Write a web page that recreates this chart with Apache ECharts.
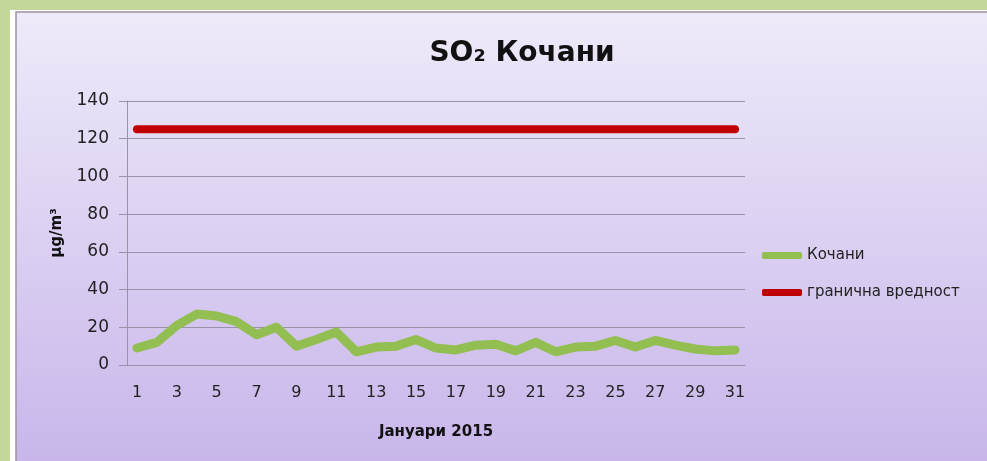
<!DOCTYPE html>
<html>
<head>
<meta charset="utf-8">
<script src="https://cdn.jsdelivr.net/npm/echarts@6/dist/echarts.min.js"></script>
<style>
html,body{margin:0;padding:0;background:#c4d79b;}
#c{width:987px;height:461px;}
</style>
</head>
<body>
<div id="c"></div>
<script>
const days = ['1','2','3','4','5','6','7','8','9','10','11','12','13','14','15','16','17','18','19','20','21','22','23','24','25','26','27','28','29','30','31'];
const kochani = [9,12,21,27,26,23,16,20,10,13.5,17.5,7,9.5,10,13.5,9,8,10.5,11,7.5,12,7,9.5,10,13,9.5,13,10.5,8.5,7.5,8];
const limitValue = [125,125,125,125,125,125,125,125,125,125,125,125,125,125,125,125,125,125,125,125,125,125,125,125,125,125,125,125,125,125,125];
const seriesNames = ['Кочани','гранична вредност'];
const titleText = 'SO₂ Кочани';
const yName = 'μg/m³';
const xName = 'Јануари 2015';

const font = '"Comic Sans MS","DejaVu Sans",sans-serif';
const chart = echarts.init(document.getElementById('c'), null, {renderer:'canvas'});
chart.setOption({
  backgroundColor:'#c4d79b',
  animation:false,
  graphic:[
    {type:'rect', z:-10, shape:{x:10,y:10,width:990,height:470}, style:{fill:'#ffffff'}},
    {type:'rect', z:-9, shape:{x:16,y:12,width:990,height:470}, style:{stroke:'#9a96a0',lineWidth:1.5,
      fill:new echarts.graphic.LinearGradient(0,0,0,449/470,[{offset:0,color:'#efeafa'},{offset:1,color:'#c8b6ea'}])}}
  ],
  title:{text:titleText, left:517, textAlign:'center', top:35,
    textStyle:{fontFamily:font, fontSize:28, fontWeight:'bold', color:'#111'}},
  legend:{orient:'vertical', left:757, top:243, itemGap:22, itemWidth:40, itemHeight:7, icon:'roundRect',
    textStyle:{fontFamily:font, fontSize:15, color:'#222'},
    data:seriesNames},
  grid:{left:127, right:242, top:101, bottom:96},
  xAxis:{type:'category', data:days, boundaryGap:true,
    name:xName, nameLocation:'middle', nameGap:60,
    nameTextStyle:{fontFamily:font, fontSize:15, fontWeight:'bold', color:'#111'},
    axisLine:{lineStyle:{color:'#9a92a8'}},
    axisTick:{interval:0, length:6, lineStyle:{color:'#9a92a8'}},
    axisLabel:{interval:1, margin:20, fontFamily:font, fontSize:16, color:'#222'}},
  yAxis:{type:'value', min:0, max:140, interval:20,
    name:yName, nameLocation:'middle', nameGap:62, nameRotate:90,
    nameTextStyle:{fontFamily:font, fontSize:15, fontWeight:'bold', color:'#111'},
    axisLine:{show:true, lineStyle:{color:'#9a92a8'}},
    axisTick:{show:true, length:8, lineStyle:{color:'#9a92a8'}},
    splitLine:{lineStyle:{color:'#9a92a8', width:1}},
    axisLabel:{margin:18, fontFamily:font, fontSize:17, color:'#222'}},
  series:[
    {name:seriesNames[0], type:'line', data:kochani, showSymbol:false, symbol:'none',
      itemStyle:{color:'#93bf52'}, lineStyle:{color:'#93bf52', width:9, cap:'round', join:'round'}},
    {name:seriesNames[1], type:'line', data:limitValue, showSymbol:false, symbol:'none',
      itemStyle:{color:'#c00000'}, lineStyle:{color:'#c00000', width:8, cap:'round', join:'round'}}
  ]
});
</script>
</body>
</html>
